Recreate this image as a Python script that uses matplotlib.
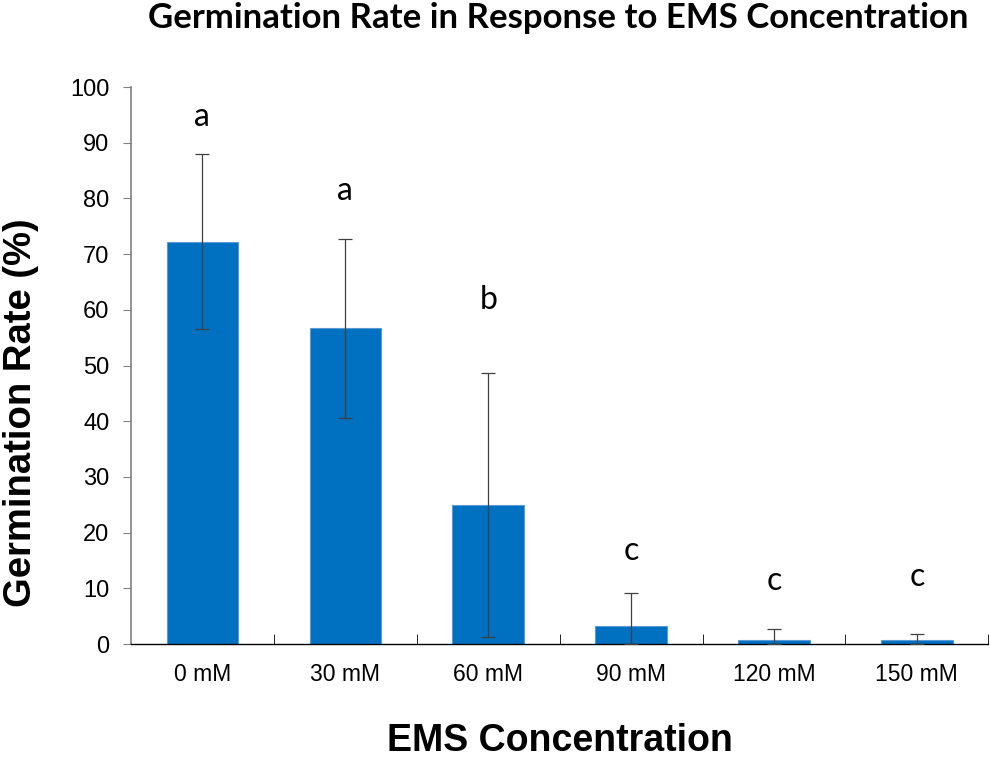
import numpy as np
import matplotlib
matplotlib.use('Agg')
import matplotlib.pyplot as plt

# data
labels = ['0 mM', '30 mM', '60 mM', '90 mM', '120 mM', '150 mM']
rate = [72.2, 56.7, 25.0, 3.3, 0.8, 0.8]
err = [15.7, 16.1, 23.7, 5.9, 1.9, 1.0]
letters = ['a', 'a', 'b', 'c', 'c', 'c']
letter_y = [94.6, 81.3, 61.8, 16.7, 11.3, 12.0]

x = np.arange(len(labels))
lower = [min(e, r) for e, r in zip(err, rate)]

fig = plt.figure(figsize=(9.9, 7.64), dpi=100)
ax = fig.add_axes([0.1323, 0.157, 0.866, 0.729])

ax.bar(x, rate, width=0.5, color='#0070C0', edgecolor='#5B9BD5', linewidth=0.8, zorder=2)
ax.errorbar(x, rate, yerr=[lower, err], fmt='none', ecolor='#404040',
            elinewidth=0.9, capsize=5, capthick=0.9, zorder=3)

for xi, l, ly in zip(x, letters, letter_y):
    ax.text(xi, ly, l, ha='center', va='center', fontsize=23, family='Lato')

ax.set_xlim(-0.5, 5.5)
ax.set_ylim(0, 100)
ax.set_yticks(range(0, 101, 10))
ax.set_xticks(x)
ax.set_xticklabels(labels, family='Liberation Sans', fontsize=16.5)
ax.set_xticks(np.arange(0.5, 6, 1), minor=True)
ax.tick_params(axis='x', which='major', length=0, pad=14)
ax.tick_params(axis='x', which='minor', direction='in', length=7, color='black')
ax.tick_params(axis='y', direction='out', length=6, color='#808080', labelsize=17, pad=9.5)
for t in ax.get_yticklabels():
    t.set_family('Liberation Sans')

ax.spines['top'].set_visible(False)
ax.spines['right'].set_visible(False)
ax.spines['left'].set_color('#808080')
ax.spines['left'].set_linewidth(1.2)
ax.spines['bottom'].set_color('black')
ax.spines['bottom'].set_linewidth(1.0)

fig.text(0.564, 0.976, 'Germination Rate in Response to EMS Concentration', ha='center', va='center',
         fontsize=25, fontweight='bold', family='Lato')
fig.text(0.021, 0.46, 'Germination Rate (%)', rotation=90, ha='center', va='center',
         fontsize=27.5, fontweight='bold', family='Liberation Sans')
fig.text(0.566, 0.03, 'EMS Concentration', ha='center', va='center',
         fontsize=27, fontweight='bold', family='Liberation Sans')

fig.savefig('out.png', dpi=100)
